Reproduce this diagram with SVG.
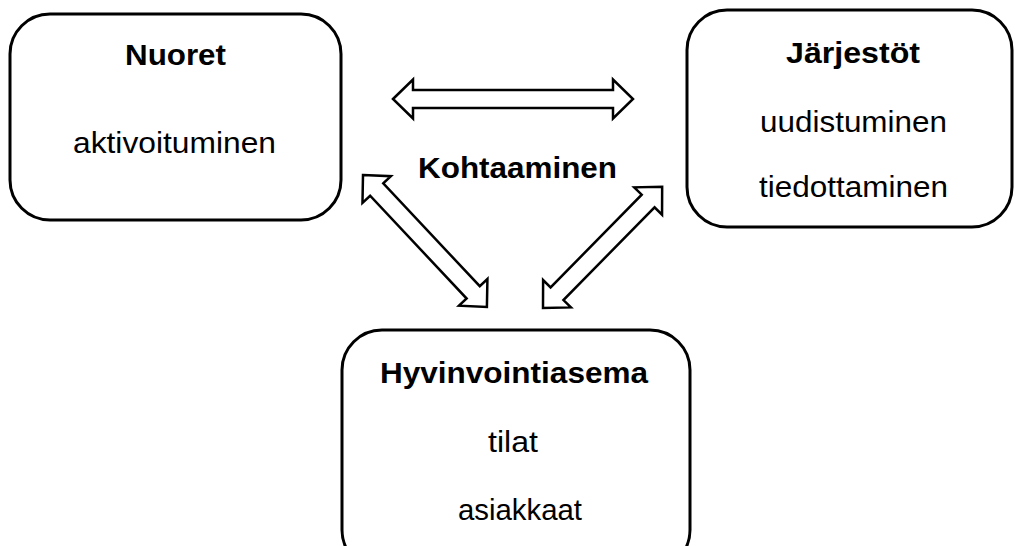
<svg xmlns="http://www.w3.org/2000/svg" width="1015" height="546" viewBox="0 0 1015 546">
<style>
.box{fill:#fff;stroke:#000;stroke-width:3}
.arr{fill:#fff;stroke:#000;stroke-width:2.5;stroke-linejoin:miter}
text{font-family:"Liberation Sans",Arial,sans-serif;font-size:29.5px;fill:#000;text-anchor:middle}
.b{font-weight:bold}
</style>
<rect width="1015" height="546" fill="#fff"/>
<g id="connectors">
<polygon class="arr" points="393,99 413,79.5 413,90 613,90 613,79.5 633,99 613,118.5 613,108 413,108 413,118.5"/>
<g transform="translate(363,175) rotate(46.8)">
<polygon class="arr" points="0,0 20,-19.5 20,-9 161,-9 161,-19.5 181,0 161,19.5 161,9 20,9 20,19.5"/>
</g>
<g transform="translate(543,308) rotate(-45.5)">
<polygon class="arr" points="0,0 20,-19.5 20,-9 150,-9 150,-19.5 170,0 150,19.5 150,9 20,9 20,19.5"/>
</g>
<text id="label-kohtaaminen" class="b" x="517.5" y="178" textLength="199" lengthAdjust="spacingAndGlyphs">Kohtaaminen</text>
</g>
<g id="nuoret">
<rect class="box" x="10" y="14" width="331" height="206" rx="40"/>
<text class="b" x="175.5" y="65" textLength="101" lengthAdjust="spacingAndGlyphs">Nuoret</text>
<text x="174.5" y="153" textLength="203" lengthAdjust="spacingAndGlyphs">aktivoituminen</text>
</g>
<g id="jarjestot">
<rect class="box" x="687" y="10" width="325" height="217" rx="40"/>
<text class="b" x="853" y="63" textLength="134" lengthAdjust="spacingAndGlyphs">Järjestöt</text>
<text x="853.5" y="132" textLength="187" lengthAdjust="spacingAndGlyphs">uudistuminen</text>
<text x="853.5" y="197" textLength="189" lengthAdjust="spacingAndGlyphs">tiedottaminen</text>
</g>
<g id="hyvinvointiasema">
<rect class="box" x="342" y="330" width="348" height="240" rx="40"/>
<text class="b" x="514" y="383" textLength="268" lengthAdjust="spacingAndGlyphs">Hyvinvointiasema</text>
<text x="513" y="452" textLength="50" lengthAdjust="spacingAndGlyphs">tilat</text>
<text x="520" y="520" textLength="124" lengthAdjust="spacingAndGlyphs">asiakkaat</text>
</g>
</svg>
